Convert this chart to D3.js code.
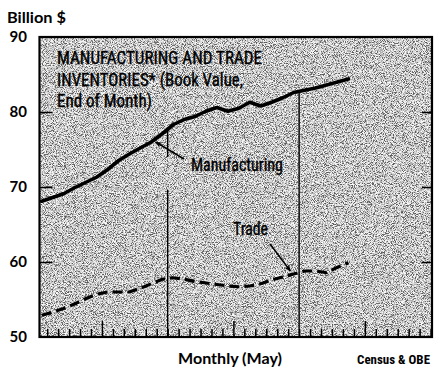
<!DOCTYPE html>
<html>
<head>
<meta charset="utf-8">
<script src="https://cdn.jsdelivr.net/npm/d3@7/dist/d3.min.js"></script>
<style>
  html, body { margin: 0; padding: 0; background: #fff; }
  svg { display: block; }
</style>
</head>
<body>
<svg id="chart" width="435" height="370"></svg>
<script>
// Month of each observation (index 0 = first May shown)
const months = ["May","Jun","Jul","Aug","Sep","Oct","Nov","Dec","Jan","Feb","Mar","Apr",
                "May","Jun","Jul","Aug","Sep","Oct","Nov","Dec","Jan","Feb","Mar","Apr",
                "May","Jun","Jul","Aug","Sep"];

// Inventories, billion dollars, end of month
const manufacturing = [68.1, 68.6, 69.1, 69.9, 70.6, 71.3, 72.3, 73.5, 74.4, 75.2,
                       76.0, 77.1, 78.3, 79.0, 79.4, 80.1, 80.6, 80.1, 80.5, 81.3,
                       80.8, 81.3, 81.9, 82.6, 82.9, 83.2, 83.6, 84.0, 84.4];
const trade = [52.9, 53.3, 53.8, 54.4, 55.1, 55.7, 56.0, 56.0, 56.0, 56.5,
               57.1, 57.7, 57.9, 57.7, 57.4, 57.2, 57.0, 56.8, 56.7, 56.8,
               57.1, 57.6, 58.0, 58.4, 58.8, 58.8, 58.6, 59.3, 59.9];

// Month boundaries carrying a tick (36 months of axis)
const monthBoundaries = d3.range(0.5, 36, 1);
const yTicks = [50, 60, 70, 80, 90];

const svg = d3.select("#chart");
const plotL = 39.5, plotR = 432, plotT = 37, plotB = 337;

const x = d3.scaleLinear().domain([-0.2, 35.63]).range([plotL, plotR]);
const y = d3.scaleLinear().domain([50, 90]).range([plotB, plotT]);

// Stippled grey plate
const defs = svg.append("defs");
const f = defs.append("filter").attr("id", "grain")
  .attr("x", 0).attr("y", 0).attr("width", 1).attr("height", 1);
f.append("feTurbulence").attr("type", "fractalNoise").attr("baseFrequency", 1.1)
  .attr("numOctaves", 2).attr("seed", 7).attr("result", "n");
f.append("feColorMatrix").attr("type", "matrix")
  .attr("values", "1 0 0 0 0  1 0 0 0 0  1 0 0 0 0  0 0 0 0 1");
const ct = f.append("feComponentTransfer");
const table = "0.1 0.1 0.1 0.16 0.44 0.7 0.9 1 1 1";
["feFuncR", "feFuncG", "feFuncB"].forEach(fn =>
  ct.append(fn).attr("type", "discrete").attr("tableValues", table));

defs.append("marker").attr("id", "head")
  .attr("viewBox", "0 0 10 10").attr("refX", 9).attr("refY", 5)
  .attr("markerWidth", 7).attr("markerHeight", 7).attr("markerUnits", "userSpaceOnUse")
  .attr("orient", "auto")
  .append("path").attr("d", "M0,1 L10,5 L0,9 L3,5 Z").attr("fill", "#000");

svg.append("rect")
  .attr("x", plotL).attr("y", plotT)
  .attr("width", plotR - plotL).attr("height", plotB - plotT)
  .attr("fill", "#aaa")
  .attr("filter", "url(#grain)");

// May dividers, running from the manufacturing curve down to the base
const line = d3.line().x((d, i) => x(i)).y(d => y(d)).curve(d3.curveLinear);
function manuAt(t) {
  const i0 = Math.floor(t), fr = t - i0;
  return manufacturing[i0] * (1 - fr) + manufacturing[i0 + 1] * fr;
}
const mayLines = months.map((m, i) => i).filter(i => i > 0 && months[i] === "May").map(i => i - 0.5);
const g = svg.append("g").attr("stroke", "#000").attr("stroke-width", 1.4);
mayLines.forEach((b, k) => {
  const yTop = y(manuAt(b));
  if (k === 0) {
    // broken where the label arrow crosses
    g.append("line").attr("x1", x(b)).attr("x2", x(b)).attr("y1", yTop).attr("y2", y(74.0));
    g.append("line").attr("x1", x(b)).attr("x2", x(b)).attr("y1", y(69.6)).attr("y2", plotB);
  } else {
    g.append("line").attr("x1", x(b)).attr("x2", x(b)).attr("y1", yTop).attr("y2", plotB);
  }
});

// Axes
const xAxis = svg.append("g").attr("transform", `translate(0,${plotB})`)
  .call(d3.axisBottom(x).tickValues(monthBoundaries).tickSize(-8).tickFormat(""));
xAxis.select(".domain").remove();
xAxis.selectAll(".tick line").attr("stroke-width", 1.5)
  .filter(d => months[(Math.round(d + 0.5)) % 12] === "Nov").attr("y2", -16);

const yAxis = svg.append("g").attr("transform", `translate(${plotL},0)`)
  .call(d3.axisLeft(y).tickValues(yTicks).tickSizeInner(-13).tickSizeOuter(0).tickPadding(12.5));
yAxis.select(".domain").remove();
yAxis.selectAll(".tick line").attr("stroke-width", 1.5).filter(d => d === 50 || d === 90).remove();
yAxis.selectAll(".tick text")
  .attr("font-family", "Lato, 'DejaVu Sans', sans-serif")
  .attr("font-weight", 700).attr("font-size", 15).attr("fill", "#000");

const yAxisR = svg.append("g").attr("transform", `translate(${plotR},0)`)
  .call(d3.axisRight(y).tickValues([60, 70, 80]).tickSizeInner(-10).tickSizeOuter(0).tickFormat(""));
yAxisR.select(".domain").remove();
yAxisR.selectAll(".tick line").attr("stroke-width", 1.5);

// Frame
svg.append("rect")
  .attr("x", plotL).attr("y", plotT)
  .attr("width", plotR - plotL).attr("height", plotB - plotT)
  .attr("fill", "none").attr("stroke", "#000").attr("stroke-width", 2.2);

// Series
svg.append("path").datum(manufacturing)
  .attr("d", line).attr("fill", "none").attr("stroke", "#000")
  .attr("stroke-width", 3.6).attr("stroke-linejoin", "round").attr("stroke-linecap", "round");
svg.append("path").datum(trade)
  .attr("d", line).attr("fill", "none").attr("stroke", "#000")
  .attr("stroke-width", 3.2).attr("stroke-dasharray", "10,5");

// Text
const condensed = "'Liberation Sans Narrow', 'Arial Narrow', 'Roboto Condensed', sans-serif";
function txt(s, tx, ty, size, family, weight, len) {
  const t = svg.append("text").attr("x", tx).attr("y", ty).text(s)
    .attr("font-family", family).attr("font-size", size).attr("font-weight", weight)
    .attr("fill", "#000");
  if (len) t.attr("textLength", len).attr("lengthAdjust", "spacingAndGlyphs");
  return t;
}
const inked = t => t.attr("stroke", "#000").attr("stroke-width", 0.35);
inked(txt("MANUFACTURING  AND  TRADE", 57, 64, 18, condensed, 400, 205));
inked(txt("INVENTORIES* (Book Value,", 57, 85.5, 18, condensed, 400, 186));
inked(txt("End of Month)", 57, 106.5, 18, condensed, 400, 95));

inked(txt("Manufacturing", 191, 170.5, 18, condensed, 400, 92));
inked(txt("Trade", 233, 234.5, 18, condensed, 400, 35));

// Label pointers
svg.append("line").attr("x1", 184).attr("y1", 159).attr("x2", x(10.4)).attr("y2", y(76.0))
  .attr("stroke", "#000").attr("stroke-width", 1.5).attr("marker-end", "url(#head)");
svg.append("line").attr("x1", 270).attr("y1", 244).attr("x2", x(22.7)).attr("y2", y(58.8))
  .attr("stroke", "#000").attr("stroke-width", 1.5).attr("marker-end", "url(#head)");

txt("Billion $", 7, 23, 14.5, "Lato, 'DejaVu Sans', sans-serif", 700, 59);
txt("Monthly  (May)", 178, 364, 15, "Lato, 'DejaVu Sans', sans-serif", 700, 104);
txt("Census & OBE", 357, 363.5, 13, condensed, 700, 73);
</script>
</body>
</html>
